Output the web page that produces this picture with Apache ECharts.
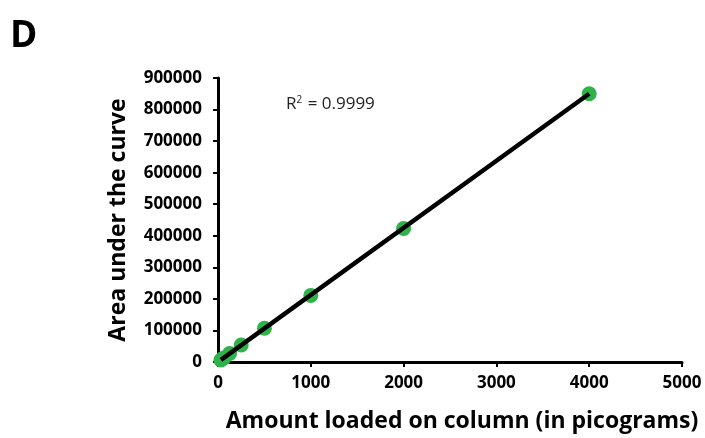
<!DOCTYPE html>
<html>
<head>
<meta charset="utf-8">
<script src="https://cdn.jsdelivr.net/npm/echarts@6/dist/echarts.min.js"></script>
<style>
  html, body { margin: 0; padding: 0; background: #fff; }
  #chart { width: 705px; height: 438px; }
</style>
</head>
<body>
<div id="chart"></div>
<script>
// amount loaded (pg) vs area under the curve
const amounts = [31.25, 62.5, 125, 250, 500, 1000, 2000, 4000];
const areas = [6500, 13000, 27000, 54000, 107000, 211000, 423000, 850000];
// linear trend line endpoints
const trendX = [31.25, 4000];
const trendY = [6600, 850000];
const r2Text = "0.9999";

const font = "'Open Sans', sans-serif";
const myChart = echarts.init(document.getElementById("chart"));

const option = {
  animation: false,
  backgroundColor: "#fff",
  grid: { left: 218, right: 23, top: 78, bottom: 75 },
  graphic: [
    {
      type: "text",
      left: 10,
      top: 18,
      style: { text: "D", font: "bold 37px " + font, fill: "#000" }
    },
    {
      type: "text",
      left: 286,
      top: 95,
      style: {
        text: "{b|R}{s|2}{b| = " + r2Text + "}",
        rich: {
          b: { fontFamily: font, fontSize: 17, fill: "#222", verticalAlign: "bottom" },
          s: { fontFamily: font, fontSize: 10, fill: "#222", verticalAlign: "top", padding: [0, 1, 8, 0] }
        }
      }
    }
  ],
  xAxis: {
    type: "value",
    min: 0,
    max: 5000,
    interval: 1000,
    name: "Amount loaded on column (in picograms)",
    nameLocation: "middle",
    nameGap: 48,
    nameTextStyle: { fontFamily: font, fontWeight: "bold", fontSize: 23, color: "#000", padding: [0, 0, 0, 24] },
    axisLine: { show: true, lineStyle: { color: "#000", width: 3 } },
    axisTick: { show: true, length: 5, lineStyle: { color: "#000", width: 2 } },
    axisLabel: { margin: 13, fontFamily: font, fontWeight: "bold", fontSize: 17, color: "#000", formatter: (v) => String(v) },
    splitLine: { show: false }
  },
  yAxis: {
    type: "value",
    min: 0,
    max: 900000,
    interval: 100000,
    name: "Area under the curve",
    nameLocation: "middle",
    nameGap: 88,
    nameTextStyle: { fontFamily: font, fontWeight: "bold", fontSize: 23, color: "#000" },
    axisLine: { show: true, lineStyle: { color: "#000", width: 3 } },
    axisTick: { show: true, length: 5, lineStyle: { color: "#000", width: 2 } },
    axisLabel: { margin: 16, fontFamily: font, fontWeight: "bold", fontSize: 17, color: "#000", formatter: (v) => String(v) },
    splitLine: { show: false }
  },
  series: [
    {
      type: "scatter",
      data: amounts.map((a, i) => [a, areas[i]]),
      symbol: "circle",
      symbolSize: 15,
      itemStyle: { color: "#2db34a", opacity: 1 },
      z: 2
    },
    {
      type: "line",
      data: trendX.map((x, i) => [x, trendY[i]]),
      symbol: "none",
      lineStyle: { color: "#000", width: 4.5 },
      z: 3
    }
  ]
};

myChart.setOption(option);
</script>
</body>
</html>
